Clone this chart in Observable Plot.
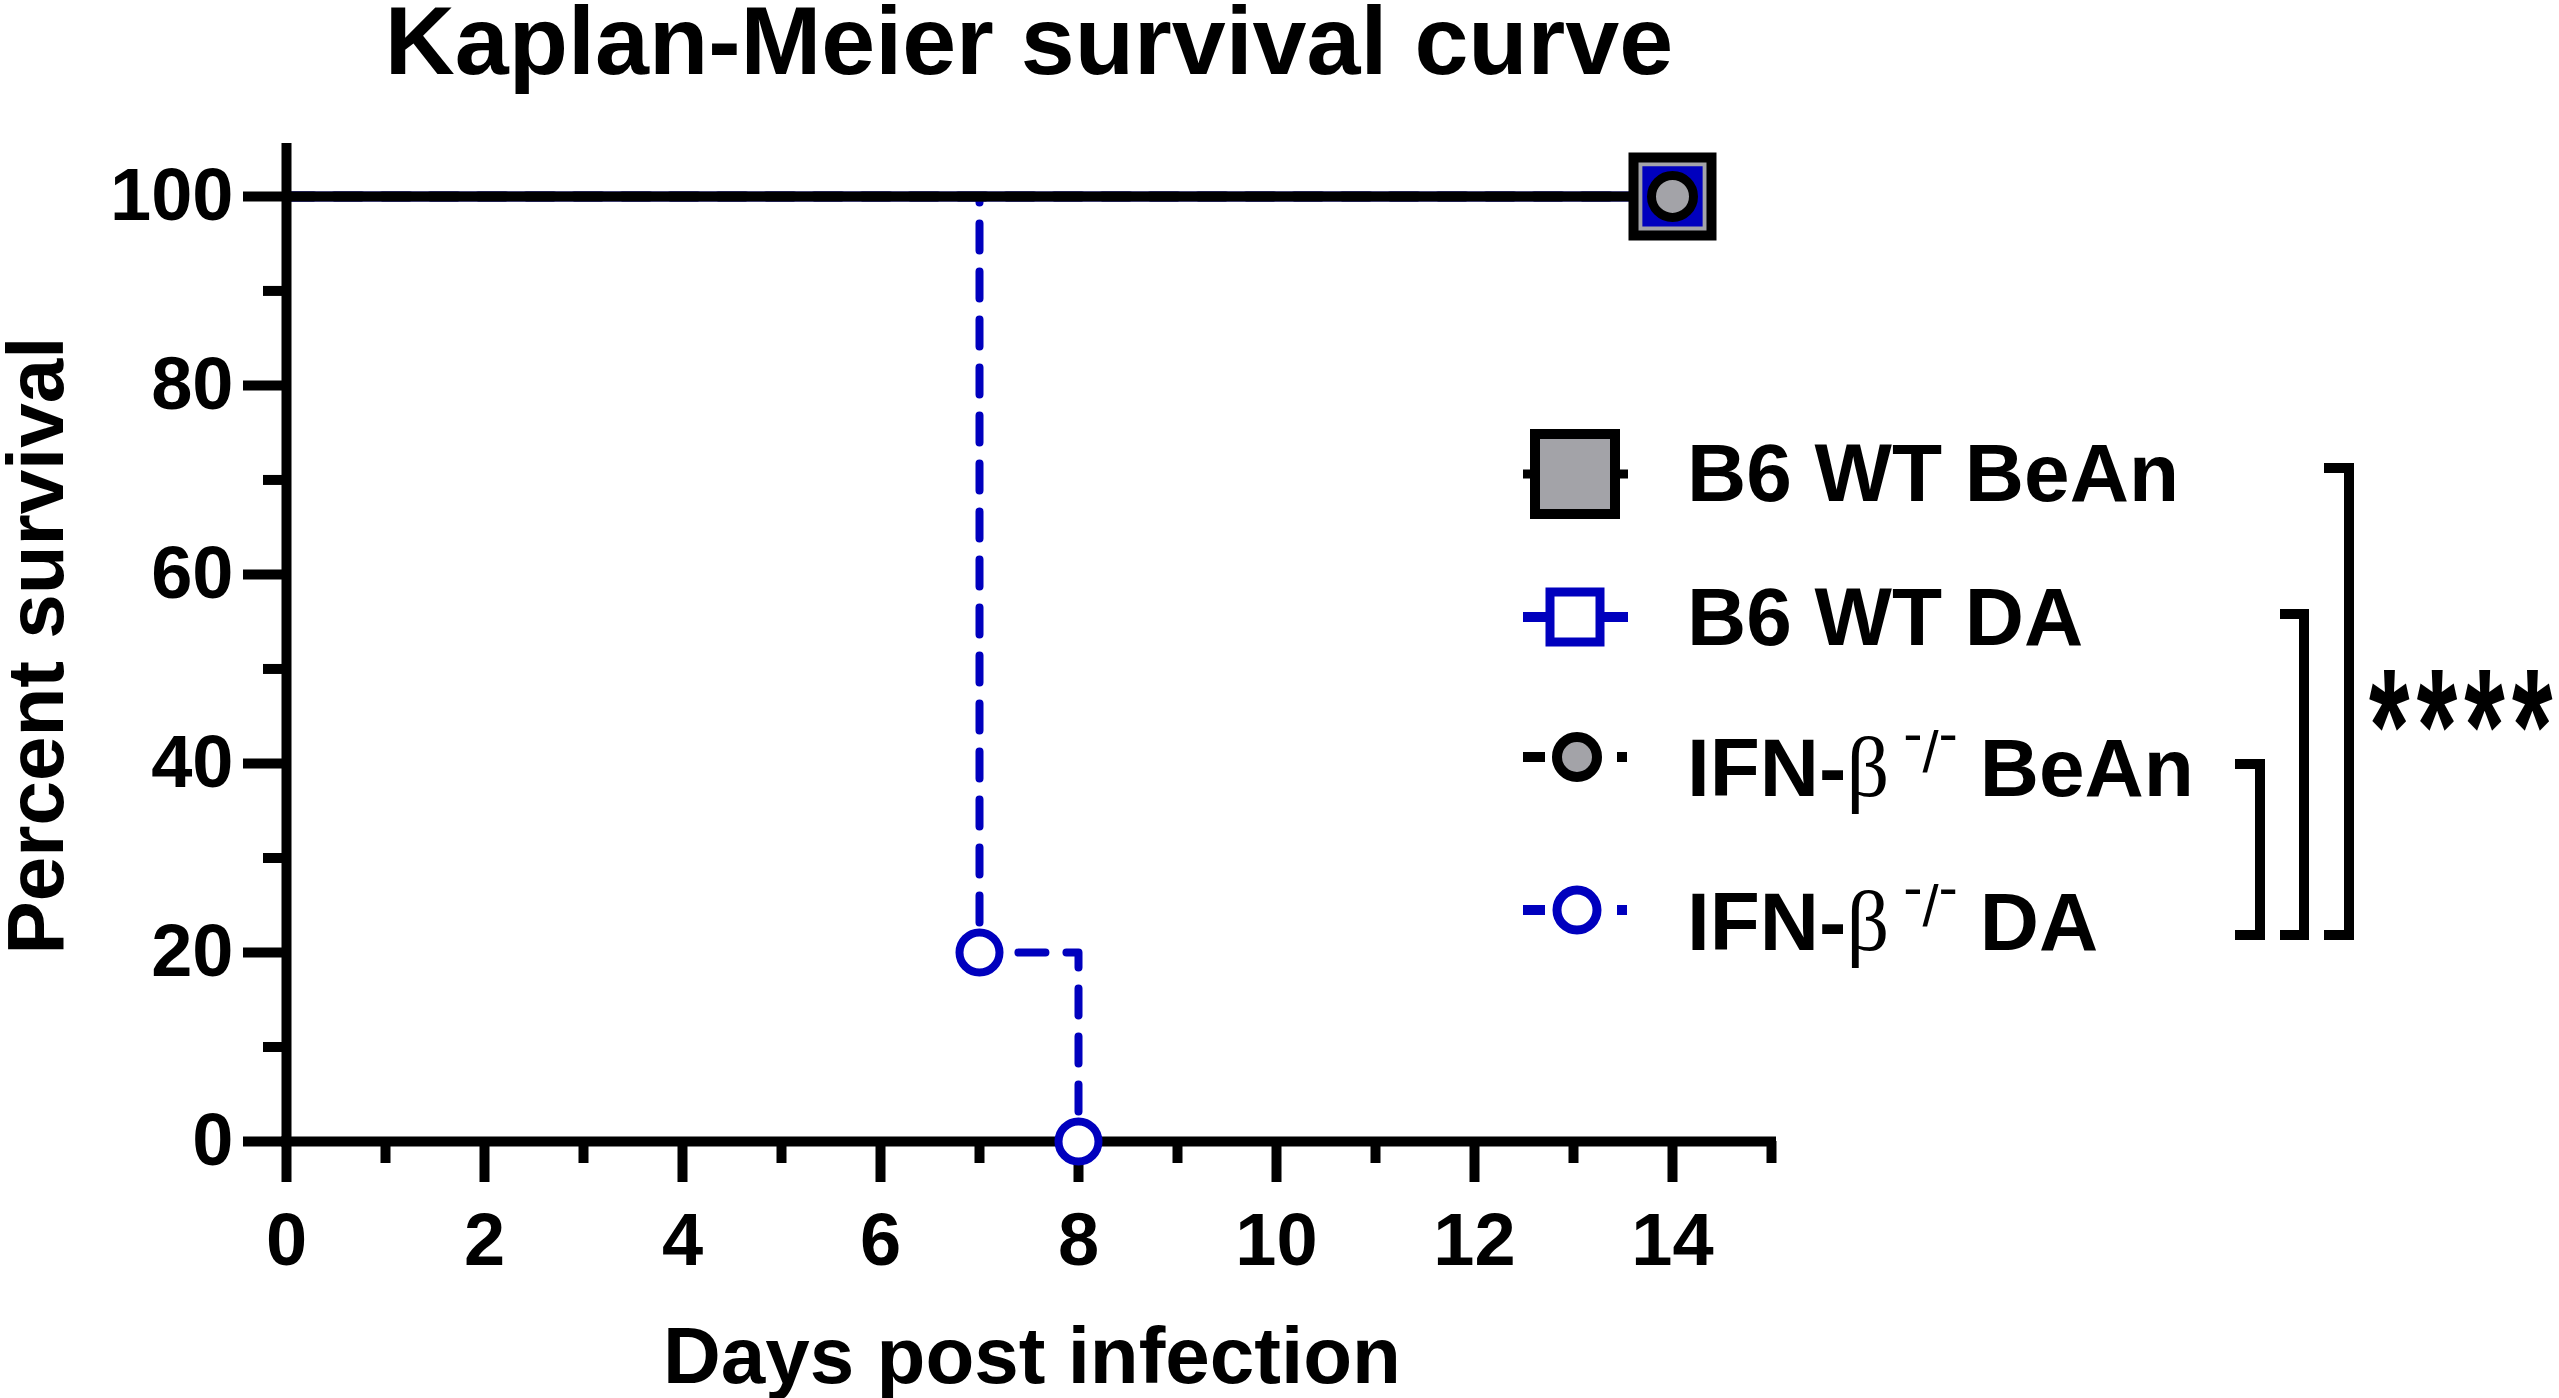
<!DOCTYPE html>
<html>
<head>
<meta charset="utf-8">
<script src="https://cdn.jsdelivr.net/npm/d3@7"></script>
<script src="https://cdn.jsdelivr.net/npm/@observablehq/plot@0.6"></script>
<style>
  html, body { margin: 0; padding: 0; background: #fff; }
  svg { display: block; }
</style>
</head>
<body>
<div id="chart"></div>
<script>
// ---------- data ----------
const title = "Kaplan-Meier survival curve";
const xLabel = "Days post infection";
const yLabel = "Percent survival";
const groups = ["B6 WT BeAn", "B6 WT DA", "IFN-β-/- BeAn", "IFN-β-/- DA"];

const days_B6_BeAn = [0, 14];   const surv_B6_BeAn = [100, 100];
const days_B6_DA = [0, 14];     const surv_B6_DA = [100, 100];
const days_IFN_BeAn = [0, 14];  const surv_IFN_BeAn = [100, 100];
const days_IFN_DA = [0, 7, 8];  const surv_IFN_DA = [100, 20, 0];
// symbol positions (events / end of follow-up)
const markDays_IFN_DA = [7, 8]; const markSurv_IFN_DA = [20, 0];

const xTicks = [0, 2, 4, 6, 8, 10, 12, 14];
const xMinorTicks = [1, 3, 5, 7, 9, 11, 13, 15];
const yTicks = [0, 20, 40, 60, 80, 100];
const yMinorTicks = [10, 30, 50, 70, 90];
const xDomain = [0, 15];
const yDomain = [0, 105.6];
const significance = "****";

// ---------- helpers ----------
const rows = (d, s) => d.map((v, i) => ({day: v, surv: s[i]}));
const last = (d, s) => [{day: d[d.length - 1], surv: s[s.length - 1]}];

const blue = "#0000BE";
const gray = "#A3A3A8";
const W = 2559, H = 1398;
const mL = 286, mR = W - 1771, mT = 143, mB = H - 1141;

const plot = Plot.plot({
  width: W,
  height: H,
  marginLeft: mL,
  marginRight: mR,
  marginTop: mT,
  marginBottom: mB,
  x: {domain: xDomain, axis: null},
  y: {domain: yDomain, axis: null},
  style: {
    fontFamily: "'Liberation Sans', Arial, sans-serif",
    fontWeight: "bold",
    background: "white",
    color: "black",
    overflow: "visible"
  },
  marks: [
    // survival curves
    Plot.line(rows(days_IFN_DA, surv_IFN_DA), {x: "day", y: "surv", curve: "step-after", stroke: blue, strokeWidth: 8, strokeDasharray: "27,21"}),
    Plot.line(rows(days_IFN_BeAn, surv_IFN_BeAn), {x: "day", y: "surv", curve: "step-after", stroke: "black", strokeWidth: 10, strokeDasharray: "27,21"}),
    Plot.line(rows(days_B6_DA, surv_B6_DA), {x: "day", y: "surv", curve: "step-after", stroke: blue, strokeWidth: 10}),
    Plot.line(rows(days_B6_BeAn, surv_B6_BeAn), {x: "day", y: "surv", curve: "step-after", stroke: "black", strokeWidth: 10}),

    // axis lines
    Plot.ruleY([yDomain[0]], {x1: xDomain[0], x2: xDomain[1], stroke: "black", strokeWidth: 10, strokeLinecap: "square"}),
    Plot.ruleX([xDomain[0]], {y1: yDomain[0], y2: yDomain[1], stroke: "black", strokeWidth: 10}),

    // axes
    Plot.axisX({ticks: xTicks, tickSize: 41, tickPadding: 30, strokeWidth: 10, fontSize: 74, fontWeight: "bold", label: null, tickFormat: d => String(d)}),
    Plot.axisX({ticks: xMinorTicks, tickSize: 22, strokeWidth: 10, label: null, tickFormat: () => ""}),
    Plot.axisY({ticks: yTicks, tickSize: 43, tickPadding: 10, strokeWidth: 10, fontSize: 74, fontWeight: "bold", label: null, tickFormat: d => String(d)}),
    Plot.axisY({ticks: yMinorTicks, tickSize: 23, strokeWidth: 10, label: null, tickFormat: () => ""}),

    // symbols
    Plot.dot(last(days_B6_BeAn, surv_B6_BeAn), {x: "day", y: "surv", symbol: "square", r: 44, fill: gray, stroke: "black", strokeWidth: 10}),
    Plot.dot(last(days_B6_DA, surv_B6_DA), {x: "day", y: "surv", symbol: "square", r: 34, fill: blue, stroke: "none"}),
    Plot.dot(last(days_IFN_BeAn, surv_IFN_BeAn), {x: "day", y: "surv", symbol: "circle", r: 21, fill: gray, stroke: "black", strokeWidth: 9}),
    Plot.dot(rows(markDays_IFN_DA, markSurv_IFN_DA), {x: "day", y: "surv", symbol: "circle", r: 20, fill: "white", stroke: blue, strokeWidth: 8}),

    // titles
    Plot.text([title], {frameAnchor: "top", dy: 73 - mT, lineAnchor: "bottom", textAnchor: "middle", fontSize: 97, fontWeight: "bold", fill: "black"}),
    Plot.text([xLabel], {frameAnchor: "bottom", dy: 1382 - 1141, dx: 3, lineAnchor: "bottom", textAnchor: "middle", fontSize: 80, fontWeight: "bold", fill: "black"}),
    Plot.text([yLabel], {frameAnchor: "left", rotate: -90, dx: 62 - mL, dy: 3, lineAnchor: "bottom", textAnchor: "middle", fontSize: 80, fontWeight: "bold", fill: "black"})
  ]
});

document.getElementById("chart").appendChild(plot);

// ---------- legend ----------
const svg = d3.select(plot);
const lg = svg.append("g").attr("class", "legend").attr("text-anchor", "start");
const lx1 = 1523, lx2 = 1628, tx = 1687;
const legendSpec = [
  {cy: 474, base: 501, color: "black", kind: "bigsquare"},
  {cy: 617, base: 645, color: blue, kind: "square"},
  {cy: 757, base: 796, color: "black", kind: "circle", fill: gray, sw: 10},
  {cy: 910, base: 950, color: blue, kind: "circle", fill: "white", sw: 9}
];
legendSpec.forEach((s, i) => {
  if (s.kind === "bigsquare" || s.kind === "square") {
    lg.append("line").attr("x1", lx1).attr("x2", lx2).attr("y1", s.cy).attr("y2", s.cy)
      .attr("stroke", s.color).attr("stroke-width", s.kind === "bigsquare" ? 9 : 10);
    const side = s.kind === "bigsquare" ? 80 : 50;
    const sw = s.kind === "bigsquare" ? 10 : 9;
    lg.append("rect").attr("x", 1575 - side / 2).attr("y", s.cy - side / 2)
      .attr("width", side).attr("height", side)
      .attr("fill", s.kind === "bigsquare" ? gray : "white")
      .attr("stroke", s.color).attr("stroke-width", sw);
  } else {
    lg.append("line").attr("x1", lx1).attr("x2", 1545).attr("y1", s.cy).attr("y2", s.cy)
      .attr("stroke", s.color).attr("stroke-width", 10);
    lg.append("line").attr("x1", 1617).attr("x2", 1627).attr("y1", s.cy).attr("y2", s.cy)
      .attr("stroke", s.color).attr("stroke-width", 10);
    lg.append("circle").attr("cx", 1577).attr("cy", s.cy).attr("r", 20)
      .attr("fill", s.fill).attr("stroke", s.color).attr("stroke-width", s.sw);
  }
  const label = groups[i];
  const t = lg.append("text").attr("x", tx).attr("y", s.base).attr("text-anchor", "start")
    .attr("font-size", 82).attr("font-weight", "bold").attr("fill", "black");
  if (label.includes("β-/-")) {
    const [pre, post] = label.split("β-/-");
    t.append("tspan").text(pre);
    t.append("tspan").attr("font-family", "'Liberation Serif', 'Times New Roman', serif")
      .attr("font-weight", "normal").attr("font-size", 84).text("β");
    // superscript "-/-" with raised minus signs
    t.append("tspan").attr("dx", 14).attr("dy", -43).attr("font-weight", "normal").attr("font-size", 58).text("-");
    t.append("tspan").attr("dy", 19).attr("font-weight", "normal").attr("font-size", 58).text("/");
    t.append("tspan").attr("dy", -19).attr("font-weight", "normal").attr("font-size", 58).text("-");
    t.append("tspan").attr("dx", -1).attr("dy", 43).text(post);
  } else {
    t.text(label);
  }
});

// significance brackets
const brackets = [
  {x: 2349, x0: 2324, top: 468},
  {x: 2304, x0: 2280, top: 614},
  {x: 2260, x0: 2235, top: 764}
];
brackets.forEach(b => {
  lg.append("path")
    .attr("d", `M${b.x0},${b.top}H${b.x}V935H${b.x0}`)
    .attr("fill", "none").attr("stroke", "black").attr("stroke-width", 10)
    .attr("stroke-linejoin", "miter");
});
lg.append("text")
  .attr("transform", "translate(2369,783) scale(0.8,1.25)")
  .attr("text-anchor", "start")
  .attr("font-size", 130).attr("font-weight", "bold").attr("letter-spacing", 9)
  .attr("fill", "black")
  .text(significance);
</script>
</body>
</html>
